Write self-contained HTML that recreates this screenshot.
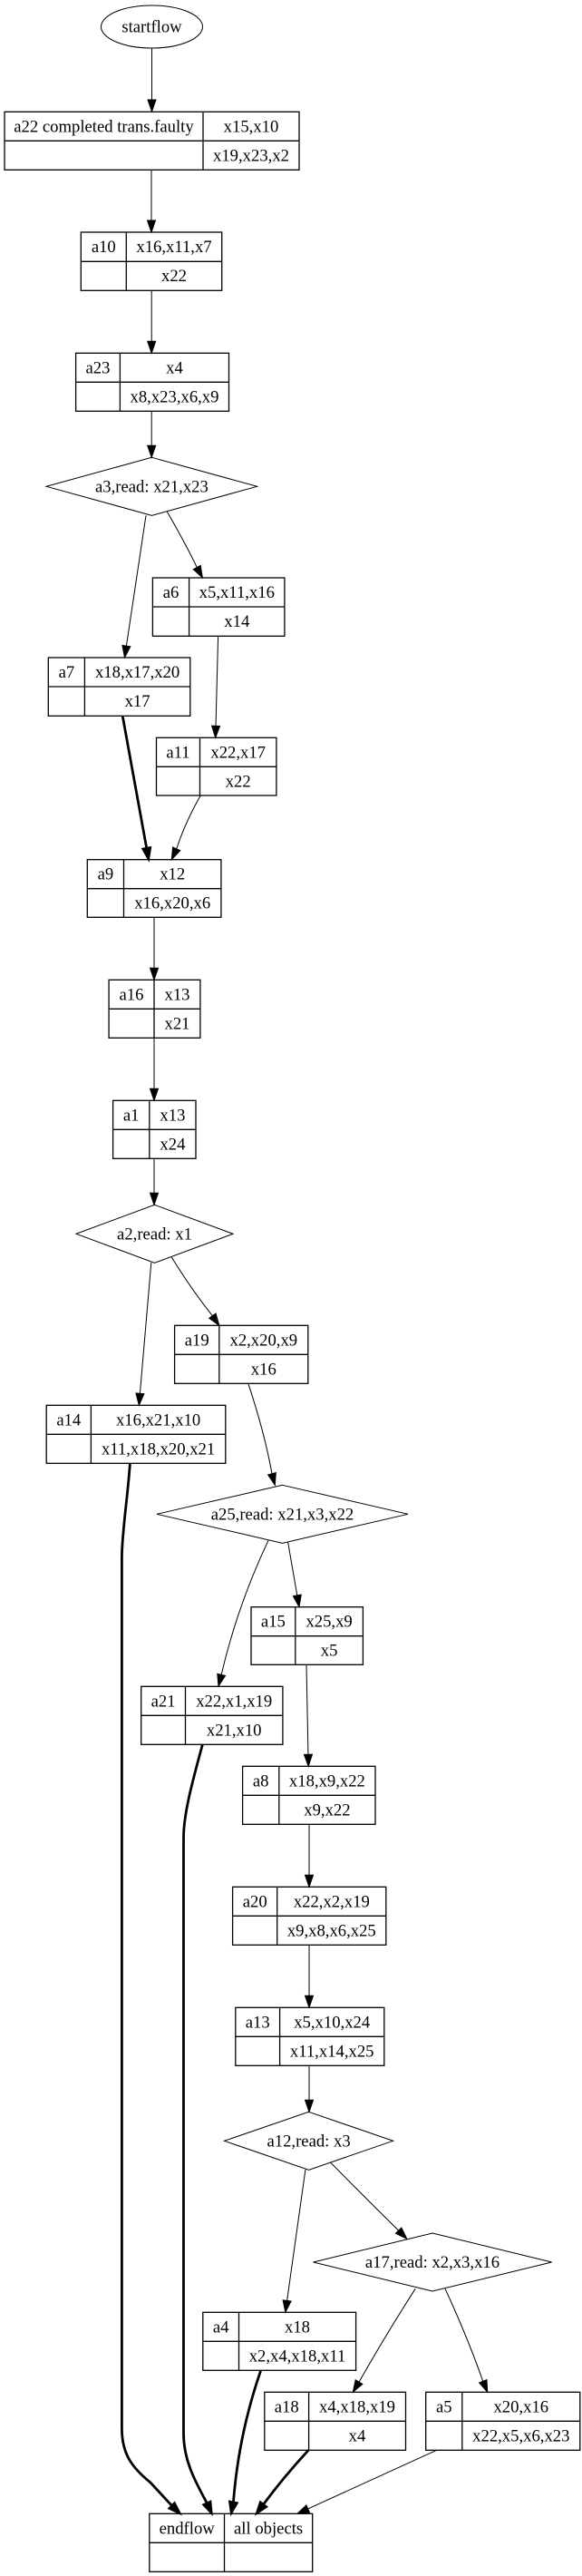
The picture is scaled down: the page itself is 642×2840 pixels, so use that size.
<!DOCTYPE html>
<html>
<head>
<meta charset="utf-8">
<style>
  html, body { margin: 0; padding: 0; background: #ffffff; }
  body { width: 642px; height: 2840px; overflow: hidden; }
  svg { display: block; }
  text { font-family: "Liberation Serif", "Times New Roman", serif; font-size: 18.67px; fill: #000; text-anchor: middle; }
  .box { fill: none; stroke: #000; stroke-width: 1.3; }
  .ln { stroke: #000; stroke-width: 1.3; }
  .dia { fill: none; stroke: #000; stroke-width: 1; }
  .e { fill: none; stroke: #000; stroke-width: 1; }
  .b { fill: none; stroke: #000; stroke-width: 2.8; }
  .ah { fill: #000; stroke: #000; stroke-width: 1; }
  .ahb { fill: #000; stroke: #000; stroke-width: 2; stroke-linejoin: miter; }
</style>
</head>
<body>
<svg width="642" height="2840" viewBox="0 0 642 2840" xmlns="http://www.w3.org/2000/svg">
  <rect x="0" y="0" width="642" height="2840" fill="#fff"/>

  <!-- startflow -->
  <ellipse cx="167.5" cy="29.5" rx="56" ry="23.5" class="dia"/>
  <text x="167.5" y="35.5">startflow</text>

  <!-- E1 -->
  <path class="e" d="M167.5,53 L167.5,110"/>
  <polygon class="ah" points="167.5,123 163,110 172,110"/>

  <!-- a22 -->
  <rect class="box" x="5" y="123.3" width="325" height="64"/>
  <line class="ln" x1="5" y1="155.3" x2="330" y2="155.3"/>
  <line class="ln" x1="224" y1="123.3" x2="224" y2="187.3"/>
  <text x="114.5" y="145.3">a22 completed trans.faulty</text>
  <text x="277" y="145.3">x15,x10</text>
  <text x="277" y="177.3">x19,x23,x2</text>

  <!-- E2 -->
  <path class="e" d="M167,187.3 L167,243"/>
  <polygon class="ah" points="167,256 162.5,243 171.5,243"/>

  <!-- a10 -->
  <rect class="box" x="89.3" y="256" width="155.4" height="64.3"/>
  <line class="ln" x1="89.3" y1="288.3" x2="244.7" y2="288.3"/>
  <line class="ln" x1="139.3" y1="256" x2="139.3" y2="320.3"/>
  <text x="114.3" y="278">a10</text>
  <text x="192" y="278">x16,x11,x7</text>
  <text x="192" y="310">x22</text>

  <!-- E3 -->
  <path class="e" d="M167.2,320.3 L167.2,376.3"/>
  <polygon class="ah" points="167.2,389.3 162.7,376.3 171.7,376.3"/>

  <!-- a23 -->
  <rect class="box" x="83.6" y="389.3" width="168.9" height="64"/>
  <line class="ln" x1="83.6" y1="421.3" x2="252.5" y2="421.3"/>
  <line class="ln" x1="132.4" y1="389.3" x2="132.4" y2="453.3"/>
  <text x="108" y="411.3">a23</text>
  <text x="192.5" y="411.3">x4</text>
  <text x="192.5" y="443.3">x8,x23,x6,x9</text>

  <!-- E4 -->
  <path class="e" d="M167.2,453.3 L167.2,491.3"/>
  <polygon class="ah" points="167.2,504.3 162.7,491.3 171.7,491.3"/>

  <!-- a3 diamond -->
  <polygon class="dia" points="167.4,504.3 283.6,536.3 167.4,568.3 51.2,536.3"/>
  <text x="167.4" y="542.3">a3,read: x21,x23</text>

  <!-- E5 a3->a7 -->
  <path class="e" d="M161,568.3 L139.4,712.1"/>
  <polygon class="ah" points="137.5,725 134.95,711.5 143.85,712.8"/>

  <!-- E6 a3->a6 -->
  <path class="e" d="M184.4,564.3 Q205,600 217.25,625.55"/>
  <polygon class="ah" points="223.4,637 213.29,627.68 221.21,623.42"/>

  <!-- a6 -->
  <rect class="box" x="168.4" y="637" width="145.5" height="64.3"/>
  <line class="ln" x1="168.4" y1="669" x2="313.9" y2="669"/>
  <line class="ln" x1="208.6" y1="637" x2="208.6" y2="701.3"/>
  <text x="188.5" y="659">a6</text>
  <text x="261.3" y="659">x5,x11,x16</text>
  <text x="261.3" y="691">x14</text>

  <!-- E7 a6->a11 -->
  <path class="e" d="M240.6,701.3 L238.04,800.3"/>
  <polygon class="ah" points="237.7,813.3 233.54,800.18 242.54,800.42"/>

  <!-- a7 -->
  <rect class="box" x="53.3" y="725" width="156.5" height="64.3"/>
  <line class="ln" x1="53.3" y1="757" x2="209.8" y2="757"/>
  <line class="ln" x1="93.4" y1="725" x2="93.4" y2="789.3"/>
  <text x="73.4" y="747">a7</text>
  <text x="151.6" y="747">x18,x17,x20</text>
  <text x="151.6" y="779">x17</text>

  <!-- a11 -->
  <rect class="box" x="172.5" y="813.3" width="132.4" height="63.7"/>
  <line class="ln" x1="172.5" y1="845.3" x2="304.9" y2="845.3"/>
  <line class="ln" x1="220.5" y1="813.3" x2="220.5" y2="877"/>
  <text x="196.5" y="835.3">a11</text>
  <text x="262.7" y="835.3">x22,x17</text>
  <text x="262.7" y="867.3">x22</text>

  <!-- E8 a7->a9 bold -->
  <path class="b" d="M135.2,789.3 L161.67,934.9"/>
  <polygon class="ahb" points="164,947.7 157.24,935.71 166.1,934.09"/>

  <!-- E9 a11->a9 -->
  <path class="e" d="M221.3,877 Q205,905 194.66,935.86"/>
  <polygon class="ah" points="189.3,947.7 190.56,934.0 198.76,937.7"/>

  <!-- a9 -->
  <rect class="box" x="96.3" y="947.7" width="147.6" height="63.6"/>
  <line class="ln" x1="96.3" y1="979.7" x2="243.9" y2="979.7"/>
  <line class="ln" x1="136.5" y1="947.7" x2="136.5" y2="1011.3"/>
  <text x="116.4" y="969.7">a9</text>
  <text x="190.2" y="969.7">x12</text>
  <text x="190.2" y="1001.7">x16,x20,x6</text>

  <!-- E10 -->
  <path class="e" d="M170,1011.3 L170,1067.3"/>
  <polygon class="ah" points="170,1080.3 165.5,1067.3 174.5,1067.3"/>

  <!-- a16 -->
  <rect class="box" x="120.1" y="1080.3" width="100.8" height="64"/>
  <line class="ln" x1="120.1" y1="1112.3" x2="220.9" y2="1112.3"/>
  <line class="ln" x1="170" y1="1080.3" x2="170" y2="1144.3"/>
  <text x="145" y="1102.3">a16</text>
  <text x="195.5" y="1102.3">x13</text>
  <text x="195.5" y="1134.3">x21</text>

  <!-- E11 -->
  <path class="e" d="M170,1144.3 L170,1200.3"/>
  <polygon class="ah" points="170,1213.3 165.5,1200.3 174.5,1200.3"/>

  <!-- a1 -->
  <rect class="box" x="124.6" y="1213.3" width="91.4" height="64"/>
  <line class="ln" x1="124.6" y1="1245.3" x2="216" y2="1245.3"/>
  <line class="ln" x1="164.8" y1="1213.3" x2="164.8" y2="1277.3"/>
  <text x="144.7" y="1235.3">a1</text>
  <text x="190.4" y="1235.3">x13</text>
  <text x="190.4" y="1267.3">x24</text>

  <!-- E12 -->
  <path class="e" d="M170,1277.3 L170,1315.3"/>
  <polygon class="ah" points="170,1328.3 165.5,1315.3 174.5,1315.3"/>

  <!-- a2 diamond -->
  <polygon class="dia" points="170.5,1328.3 257,1360.3 170.5,1392.3 84,1360.3"/>
  <text x="170.5" y="1366.3">a2,read: x1</text>

  <!-- E13 a2->a14 -->
  <path class="e" d="M166.8,1392 L154.41,1536.35"/>
  <polygon class="ah" points="153.3,1549.3 149.93,1535.97 158.89,1536.73"/>

  <!-- E14 a2->a19 -->
  <path class="e" d="M189.3,1386 Q210,1420 234.36,1450.64"/>
  <polygon class="ah" points="241.8,1461.3 230.67,1453.21 238.05,1448.07"/>

  <!-- a19 -->
  <rect class="box" x="192.6" y="1461.3" width="147.2" height="64"/>
  <line class="ln" x1="192.6" y1="1493.3" x2="339.8" y2="1493.3"/>
  <line class="ln" x1="241.8" y1="1461.3" x2="241.8" y2="1525.3"/>
  <text x="217.2" y="1483.3">a19</text>
  <text x="290.8" y="1483.3">x2,x20,x9</text>
  <text x="290.8" y="1515.3">x16</text>

  <!-- a14 -->
  <rect class="box" x="51.2" y="1549.3" width="197.6" height="64"/>
  <line class="ln" x1="51.2" y1="1581.3" x2="248.8" y2="1581.3"/>
  <line class="ln" x1="100.4" y1="1549.3" x2="100.4" y2="1613.3"/>
  <text x="75.8" y="1571.3">a14</text>
  <text x="174.6" y="1571.3">x16,x21,x10</text>
  <text x="174.6" y="1603.3">x11,x18,x20,x21</text>

  <!-- E15 a19->a25 -->
  <path class="e" d="M273.8,1525.3 Q292,1580 299.99,1624.73"/>
  <polygon class="ah" points="303.3,1637.3 295.64,1625.88 304.34,1623.58"/>

  <!-- a25 diamond -->
  <polygon class="dia" points="311.5,1637.3 450,1669.3 311.5,1701.3 173,1669.3"/>
  <text x="311.5" y="1675.3">a25,read: x21,x3,x22</text>

  <!-- E16 a14->endflow bold -->
  <path class="b" d="M143.4,1613.3 C141,1650 134.4,1690 134.4,1717 L134.4,2677 C134.4,2705 145,2720 166,2737 L189.4,2762.3"/>
  <polygon class="ahb" points="198.8,2771.3 186.29,2765.55 192.51,2759.05"/>

  <!-- E17 a25->a21 -->
  <path class="e" d="M296,1698.3 Q262,1770 244.16,1846.39"/>
  <polygon class="ah" points="241,1859 239.79,1845.3 248.53,1847.48"/>

  <!-- E18 a25->a15 -->
  <path class="e" d="M317.6,1700 L327.79,1758.9"/>
  <polygon class="ah" points="330,1771.7 323.36,1759.67 332.22,1758.13"/>

  <!-- a15 -->
  <rect class="box" x="277" y="1771.7" width="123.4" height="63.6"/>
  <line class="ln" x1="277" y1="1803.7" x2="400.4" y2="1803.7"/>
  <line class="ln" x1="325.8" y1="1771.7" x2="325.8" y2="1835.3"/>
  <text x="301.4" y="1793.7">a15</text>
  <text x="363.1" y="1793.7">x25,x9</text>
  <text x="363.1" y="1825.7">x5</text>

  <!-- a21 -->
  <rect class="box" x="155.7" y="1859.3" width="156.2" height="64"/>
  <line class="ln" x1="155.7" y1="1891.3" x2="311.9" y2="1891.3"/>
  <line class="ln" x1="204.5" y1="1859.3" x2="204.5" y2="1923.3"/>
  <text x="180.1" y="1881.3">a21</text>
  <text x="258.2" y="1881.3">x22,x1,x19</text>
  <text x="258.2" y="1913.3">x21,x10</text>

  <!-- E19 a15->a8 -->
  <path class="e" d="M338,1835.3 L339.95,1934.3"/>
  <polygon class="ah" points="340.2,1947.3 335.45,1934.4 344.45,1934.2"/>

  <!-- E20 a21->endflow bold -->
  <path class="b" d="M223.4,1923.3 C212,1965 202.5,2000 202.5,2026 L202.5,2683 C202.5,2715 218,2740 228.22,2759.47"/>
  <polygon class="ahb" points="233.6,2771.3 224.12,2761.33 232.32,2757.61"/>

  <!-- a8 -->
  <rect class="box" x="267.6" y="1947.3" width="146.4" height="64"/>
  <line class="ln" x1="267.6" y1="1979.3" x2="414" y2="1979.3"/>
  <line class="ln" x1="307.8" y1="1947.3" x2="307.8" y2="2011.3"/>
  <text x="287.7" y="1969.3">a8</text>
  <text x="360.9" y="1969.3">x18,x9,x22</text>
  <text x="360.9" y="2001.3">x9,x22</text>

  <!-- E21 -->
  <path class="e" d="M341,2011.3 L341,2067.3"/>
  <polygon class="ah" points="341,2080.3 336.5,2067.3 345.5,2067.3"/>

  <!-- a20 -->
  <rect class="box" x="256.6" y="2080.3" width="169.2" height="64"/>
  <line class="ln" x1="256.6" y1="2112.3" x2="425.8" y2="2112.3"/>
  <line class="ln" x1="305.7" y1="2080.3" x2="305.7" y2="2144.3"/>
  <text x="281.2" y="2102.3">a20</text>
  <text x="365.8" y="2102.3">x22,x2,x19</text>
  <text x="365.8" y="2134.3">x9,x8,x6,x25</text>

  <!-- E22 -->
  <path class="e" d="M341,2144.3 L341,2200.3"/>
  <polygon class="ah" points="341,2213.3 336.5,2200.3 345.5,2200.3"/>

  <!-- a13 -->
  <rect class="box" x="259.8" y="2213.3" width="164" height="64"/>
  <line class="ln" x1="259.8" y1="2245.3" x2="423.8" y2="2245.3"/>
  <line class="ln" x1="308.6" y1="2213.3" x2="308.6" y2="2277.3"/>
  <text x="284.2" y="2235.3">a13</text>
  <text x="366.2" y="2235.3">x5,x10,x24</text>
  <text x="366.2" y="2267.3">x11,x14,x25</text>

  <!-- E23 -->
  <path class="e" d="M341,2277.3 L341,2315.3"/>
  <polygon class="ah" points="341,2328.3 336.5,2315.3 345.5,2315.3"/>

  <!-- a12 diamond -->
  <polygon class="dia" points="340.6,2328.3 433.6,2360.3 340.6,2392.3 247.5,2360.3"/>
  <text x="340.6" y="2366.3">a12,read: x3</text>

  <!-- E24 a12->a4 -->
  <path class="e" d="M336.9,2392 L316.61,2536.43"/>
  <polygon class="ah" points="314.8,2549.3 312.15,2535.8 321.07,2537.06"/>

  <!-- E25 a12->a17 -->
  <path class="e" d="M364.8,2384.3 Q405,2425 439.61,2459.11"/>
  <polygon class="ah" points="448.8,2468.3 436.43,2462.29 442.79,2455.93"/>

  <!-- a17 diamond -->
  <polygon class="dia" points="477,2462 608.6,2494 477,2526 345.5,2494"/>
  <text x="477" y="2500">a17,read: x2,x3,x16</text>

  <!-- E26 a17->a18 -->
  <path class="e" d="M458.2,2523.3 Q425,2575 396.02,2626.17"/>
  <polygon class="ah" points="389.3,2637.3 392.17,2623.84 399.87,2628.5"/>

  <!-- E27 a17->a5 -->
  <path class="e" d="M491,2523.3 Q515,2575 532.77,2625.28"/>
  <polygon class="ah" points="537.7,2637.3 528.61,2626.99 536.93,2623.57"/>

  <!-- a4 -->
  <rect class="box" x="223.8" y="2549.3" width="168.8" height="64"/>
  <line class="ln" x1="223.8" y1="2581.3" x2="392.6" y2="2581.3"/>
  <line class="ln" x1="263.5" y1="2549.3" x2="263.5" y2="2613.3"/>
  <text x="243.7" y="2571.3">a4</text>
  <text x="328" y="2571.3">x18</text>
  <text x="328" y="2603.3">x2,x4,x18,x11</text>

  <!-- a18 -->
  <rect class="box" x="291.8" y="2637.3" width="155.7" height="64"/>
  <line class="ln" x1="291.8" y1="2669.3" x2="447.5" y2="2669.3"/>
  <line class="ln" x1="340.6" y1="2637.3" x2="340.6" y2="2701.3"/>
  <text x="316.2" y="2659.3">a18</text>
  <text x="394" y="2659.3">x4,x18,x19</text>
  <text x="394" y="2691.3">x4</text>

  <!-- a5 -->
  <rect class="box" x="469.7" y="2637.3" width="170.1" height="64"/>
  <line class="ln" x1="469.7" y1="2669.3" x2="639.8" y2="2669.3"/>
  <line class="ln" x1="509.8" y1="2637.3" x2="509.8" y2="2701.3"/>
  <text x="489.8" y="2659.3">a5</text>
  <text x="574.8" y="2659.3">x20,x16</text>
  <text x="574.8" y="2691.3">x22,x5,x6,x23</text>

  <!-- E28 a4->endflow bold -->
  <path class="b" d="M287.7,2613.3 C275,2650 262,2700 257.46,2758.53"/>
  <polygon class="ahb" points="255,2771.3 253.04,2757.68 261.88,2759.38"/>

  <!-- E29 a18->endflow bold -->
  <path class="b" d="M340.2,2701.3 Q312,2732 290.64,2760.93"/>
  <polygon class="ahb" points="282.8,2771.3 287.05,2758.22 294.23,2763.64"/>

  <!-- E30 a5->endflow -->
  <path class="e" d="M481.6,2701.3 L339.73,2765.92"/>
  <polygon class="ah" points="327.9,2771.3 337.87,2761.82 341.59,2770.02"/>

  <!-- endflow -->
  <rect class="box" x="164.8" y="2771.3" width="179.9" height="64"/>
  <line class="ln" x1="164.8" y1="2803.3" x2="344.7" y2="2803.3"/>
  <line class="ln" x1="247.5" y1="2771.3" x2="247.5" y2="2835.3"/>
  <text x="206.2" y="2793.3">endflow</text>
  <text x="296.1" y="2793.3">all objects</text>
</svg>
</body>
</html>
